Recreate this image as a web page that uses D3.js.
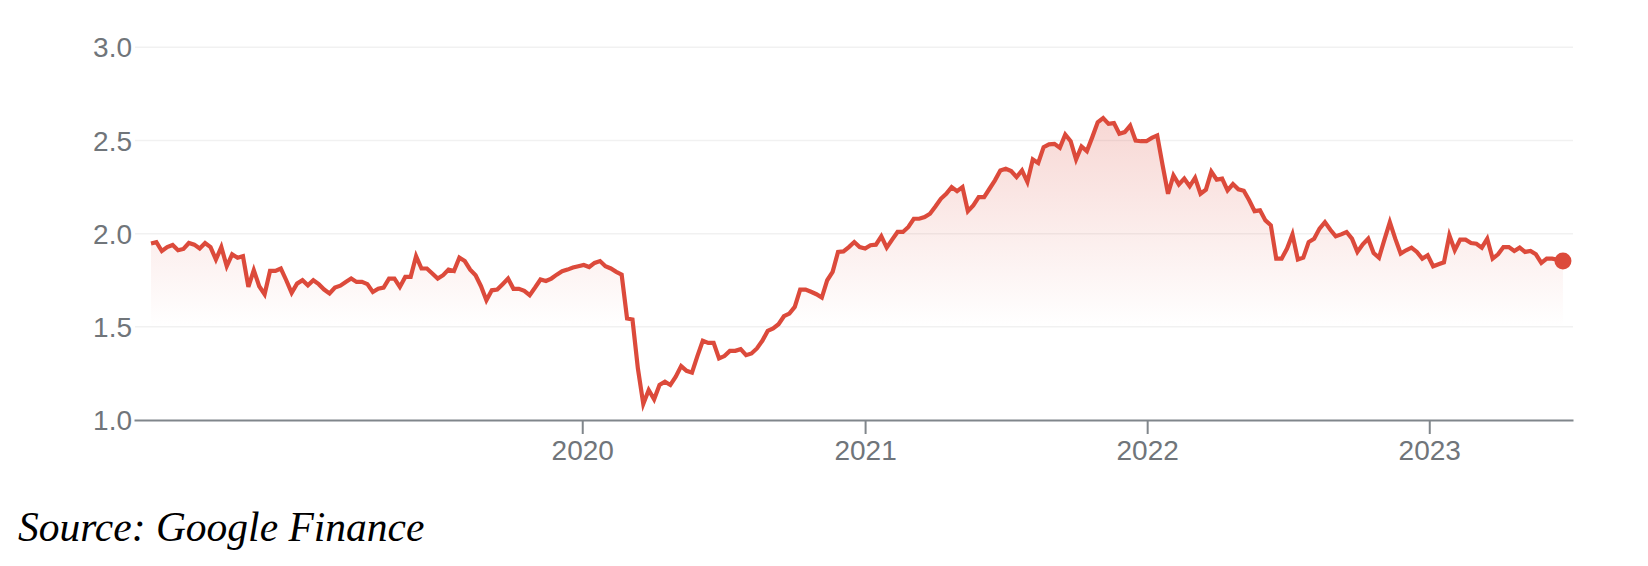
<!DOCTYPE html>
<html>
<head>
<meta charset="utf-8">
<script src="https://cdnjs.cloudflare.com/ajax/libs/d3/7.8.5/d3.min.js"></script>
<style>
  body { margin: 0; background: #ffffff; }
</style>
</head>
<body>
<div class="center"></div>
<script>
// weekly closes (one value per Friday)
var firstWeek = "2018-06-22",
    lastWeek = "2023-06-23";

var prices = [
    1.947, 1.954, 1.907, 1.928, 1.939, 1.911, 1.918, 1.950, 1.941, 1.920,   // 0
    1.950, 1.928, 1.861, 1.928, 1.825, 1.889, 1.871, 1.879, 1.714, 1.804,   // 10
    1.718, 1.675, 1.800, 1.800, 1.813, 1.750, 1.682, 1.732, 1.750, 1.723,   // 20
    1.750, 1.729, 1.700, 1.679, 1.711, 1.721, 1.741, 1.759, 1.741, 1.741,   // 30
    1.729, 1.687, 1.705, 1.711, 1.759, 1.759, 1.714, 1.768, 1.768, 1.879,   // 40
    1.813, 1.813, 1.786, 1.759, 1.777, 1.807, 1.800, 1.871, 1.853, 1.807,   // 50
    1.777, 1.718, 1.643, 1.696, 1.700, 1.729, 1.759, 1.704, 1.704, 1.693,   // 60
    1.670, 1.711, 1.754, 1.746, 1.759, 1.780, 1.798, 1.807, 1.818, 1.825,   // 70
    1.832, 1.821, 1.843, 1.853, 1.825, 1.813, 1.795, 1.780, 1.545, 1.539,   // 80
    1.277, 1.086, 1.161, 1.111, 1.188, 1.205, 1.188, 1.232, 1.289, 1.264,   // 90
    1.254, 1.343, 1.425, 1.414, 1.414, 1.330, 1.343, 1.371, 1.371, 1.380,   // 100
    1.348, 1.357, 1.384, 1.425, 1.478, 1.491, 1.514, 1.557, 1.571, 1.607,   // 110
    1.700, 1.700, 1.688, 1.675, 1.657, 1.750, 1.795, 1.902, 1.905, 1.928,   // 120
    1.955, 1.928, 1.920, 1.938, 1.941, 1.986, 1.925, 1.968, 2.009, 2.009,   // 130
    2.036, 2.080, 2.080, 2.089, 2.107, 2.146, 2.187, 2.214, 2.250, 2.228,   // 140
    2.250, 2.121, 2.152, 2.196, 2.196, 2.241, 2.286, 2.339, 2.348, 2.336,   // 150
    2.304, 2.339, 2.277, 2.398, 2.379, 2.464, 2.479, 2.482, 2.461, 2.532,   // 160
    2.496, 2.398, 2.468, 2.443, 2.518, 2.598, 2.620, 2.589, 2.593, 2.536,   // 170
    2.545, 2.580, 2.500, 2.496, 2.496, 2.514, 2.527, 2.366, 2.214, 2.312,   // 180
    2.264, 2.295, 2.254, 2.300, 2.214, 2.236, 2.333, 2.290, 2.295, 2.232,   // 190
    2.266, 2.238, 2.230, 2.179, 2.121, 2.125, 2.071, 2.045, 1.866, 1.866,   // 200
    1.920, 1.996, 1.861, 1.871, 1.955, 1.973, 2.027, 2.062, 2.021, 1.986,   // 210
    1.996, 2.009, 1.973, 1.902, 1.943, 1.973, 1.896, 1.871, 1.968, 2.062,   // 220
    1.973, 1.893, 1.911, 1.925, 1.902, 1.866, 1.884, 1.825, 1.836, 1.846,   // 230
    1.991, 1.911, 1.968, 1.968, 1.950, 1.946, 1.925, 1.973, 1.866, 1.889,   // 240
    1.928, 1.928, 1.907, 1.925, 1.902, 1.907, 1.889, 1.843, 1.866, 1.866,   // 250
    1.860, 1.853                                                            // 260
];

var yTicks = [1.0, 1.5, 2.0, 2.5, 3.0];
var xTicks = ["2020-01-01", "2021-01-01", "2022-01-01", "2023-01-01"];
var xDomain = ["2018-05-31", "2023-07-06"];
var yDomain = [1.0, 3.0];
var sourceText = "Source: Google Finance";

// Set the dimensions of the canvas / graph
var margin = {top: 47.3, right: 75, bottom: 146, left: 134},
    width = 1648 - margin.left - margin.right,
    height = 566 - margin.top - margin.bottom;

var parseDate = d3.timeParse("%Y-%m-%d");

// one Friday per price
var weeks = d3.timeFriday.range(parseDate(firstWeek), d3.timeDay.offset(parseDate(lastWeek), 1));
var data = prices.map(function(v, i) { return {date: weeks[i], close: v}; });

// set the ranges
var x = d3.scaleTime().domain(xDomain.map(parseDate)).range([0, width]);
var y = d3.scaleLinear().domain(yDomain).range([height, 0]);

var red = "#dc4a3b",
    grey = "#70757a",
    areaBase = 1.5;

var svg = d3.select(".center").append("svg")
    .attr("width", width + margin.left + margin.right)
    .attr("height", height + margin.top + margin.bottom);

var g = svg.append("g")
    .attr("transform", "translate(" + margin.left + "," + margin.top + ")");

// gradient under the line
var grad = svg.append("defs").append("linearGradient")
    .attr("id", "fade")
    .attr("gradientUnits", "userSpaceOnUse")
    .attr("x1", 0).attr("x2", 0)
    .attr("y1", y(d3.max(prices)))
    .attr("y2", y(areaBase));
grad.append("stop").attr("offset", "0%").attr("stop-color", red).attr("stop-opacity", 0.22);
grad.append("stop").attr("offset", "100%").attr("stop-color", red).attr("stop-opacity", 0);

// grid lines
g.selectAll(".grid")
    .data(yTicks.slice(1))
    .enter().append("line")
    .attr("x1", 1)
    .attr("x2", width)
    .attr("y1", function(d) { return y(d); })
    .attr("y2", function(d) { return y(d); })
    .attr("stroke", "#f1f1f1")
    .attr("stroke-width", 1.5);

// y labels
g.selectAll(".ylab")
    .data(yTicks)
    .enter().append("text")
    .attr("x", -2)
    .attr("y", function(d) { return y(d); })
    .attr("dy", "0.36em")
    .attr("text-anchor", "end")
    .attr("font-family", "'Liberation Sans', Arial, sans-serif")
    .attr("font-size", "28px")
    .attr("fill", grey)
    .text(function(d) { return d3.format(".1f")(d); });

// area + line
var area = d3.area()
    .x(function(d) { return x(d.date); })
    .y0(y(areaBase))
    .y1(function(d) { return y(d.close); });

var valueline = d3.line()
    .x(function(d) { return x(d.date); })
    .y(function(d) { return y(d.close); });

g.append("path")
    .datum(data)
    .attr("fill", "url(#fade)")
    .attr("d", area);

g.append("path")
    .datum(data)
    .attr("fill", "none")
    .attr("stroke", red)
    .attr("stroke-width", 4.2)
    .attr("stroke-linejoin", "miter")
    .attr("d", valueline);

// last point
var last = data[data.length - 1];
g.append("circle")
    .attr("cx", x(last.date))
    .attr("cy", y(last.close))
    .attr("r", 8.5)
    .attr("fill", red);

// x axis
var xAxis = g.append("g")
    .attr("transform", "translate(0," + height + ")")
    .call(d3.axisBottom(x)
        .tickValues(xTicks.map(parseDate))
        .tickSize(14)
        .tickSizeOuter(0)
        .tickPadding(6)
        .tickFormat(d3.timeFormat("%Y")));

xAxis.select(".domain").attr("stroke", "#80868b").attr("stroke-width", 2);
xAxis.selectAll(".tick line").attr("stroke", "#80868b").attr("stroke-width", 2);
xAxis.selectAll(".tick text")
    .attr("font-family", "'Liberation Sans', Arial, sans-serif")
    .attr("font-size", "28px")
    .attr("fill", grey);

// source note
svg.append("text")
    .attr("x", 18)
    .attr("y", 541)
    .attr("font-family", "'Liberation Serif', 'Times New Roman', serif")
    .attr("font-style", "italic")
    .attr("font-size", "41.5px")
    .attr("fill", "#000")
    .text(sourceText);
</script>
</body>
</html>
